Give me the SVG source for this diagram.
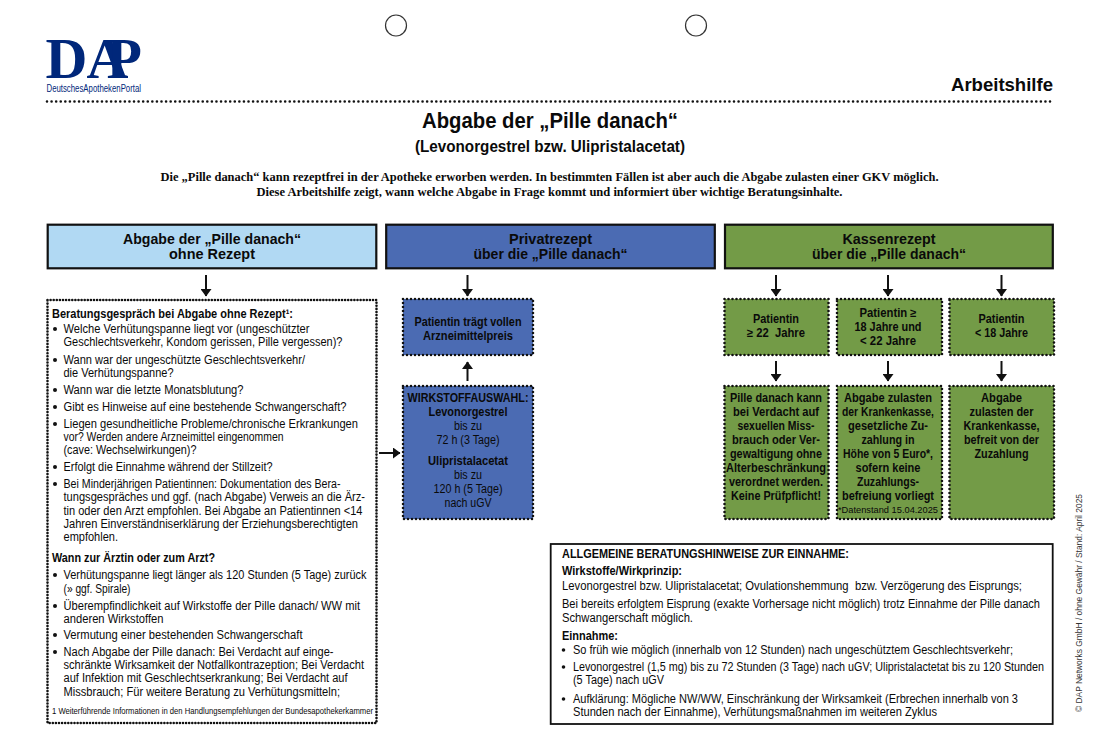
<svg xmlns="http://www.w3.org/2000/svg" width="1100" height="747" viewBox="0 0 1100 747">
<style>
text{font-family:"Liberation Sans",Arial,sans-serif;fill:#0a0a0a}
.c{text-anchor:middle}
.b{font-weight:bold}
.t{font-size:12px}
.s{font-size:12px;font-weight:bold;text-anchor:middle}
.h{font-size:15px;font-weight:bold;text-anchor:middle}
.i{font-family:"Liberation Serif","Times New Roman",serif;font-size:12.5px;font-weight:bold;text-anchor:middle}
.hb{stroke:#111;stroke-width:2.2}
.dot{stroke:#111;stroke-width:2.6;stroke-linecap:round;stroke-dasharray:0 3.1;fill:none}
.dotg{stroke:#111;stroke-width:2.6;stroke-linecap:round;stroke-dasharray:0 4;}
.ln{stroke:#111;stroke-width:2;fill:none;marker-end:url(#a)}
.bu{fill:#111}
</style>
<defs><marker id="a" markerUnits="userSpaceOnUse" markerWidth="8" markerHeight="11" refX="7" refY="5.5" orient="auto"><path d="M0 0L7.5 5.5L0 11Z" fill="#111"/></marker></defs>

<g id="punch-holes" fill="#fff" stroke="#333" stroke-width="1.2"><circle cx="396" cy="25.5" r="10.5"/><circle cx="696" cy="25.5" r="10.5"/></g>

<g id="logo">
<text x="45.5 86.5 106.5" y="77.5" font-size="58" style="font-family:'Liberation Serif',serif;font-weight:bold;fill:#00277a">DAP</text>
<text x="46.5" y="92" font-size="10.5" textLength="94.5" lengthAdjust="spacingAndGlyphs" style="fill:#00277a">DeutschesApothekenPortal</text>
</g>
<text x="1053" y="91" text-anchor="end" class="b" font-size="17.5" textLength="102" lengthAdjust="spacingAndGlyphs">Arbeitshilfe</text>
<line x1="47" y1="101.5" x2="1053" y2="101.5" stroke="#111" stroke-width="2.6" stroke-linecap="round" stroke-dasharray="0 4.58"/>

<g id="title">
<text x="550" y="128" class="c b" font-size="21.5" textLength="256" lengthAdjust="spacingAndGlyphs">Abgabe der „Pille danach“</text>
<text x="550" y="151.5" class="c b" font-size="16" textLength="270" lengthAdjust="spacingAndGlyphs">(Levonorgestrel bzw. Ulipristalacetat)</text>
<text x="549.5" y="181" class="i" textLength="778" lengthAdjust="spacingAndGlyphs">Die „Pille danach“ kann rezeptfrei in der Apotheke erworben werden. In bestimmten Fällen ist aber auch die Abgabe zulasten einer GKV möglich.</text>
<text x="549.5" y="196" class="i" textLength="586" lengthAdjust="spacingAndGlyphs">Diese Arbeitshilfe zeigt, wann welche Abgabe in Frage kommt und informiert über wichtige Beratungsinhalte.</text>
</g>

<g id="head-ohne-rezept"><rect x="47.7" y="224.7" width="328.6" height="43.6" fill="#b1d9f3" class="hb"/>
<text x="212" y="244" class="h" textLength="178" lengthAdjust="spacingAndGlyphs">Abgabe der „Pille danach“</text><text x="212" y="259" class="h" textLength="86" lengthAdjust="spacingAndGlyphs">ohne Rezept</text></g>
<g id="head-privatrezept"><rect x="386.2" y="224.7" width="328.6" height="43.6" fill="#4b6bb3" class="hb"/>
<text x="550.5" y="244" class="h" textLength="83" lengthAdjust="spacingAndGlyphs">Privatrezept</text><text x="550.5" y="259" class="h" textLength="154" lengthAdjust="spacingAndGlyphs">über die „Pille danach“</text></g>
<g id="head-kassenrezept"><rect x="725" y="224.7" width="327.8" height="43.6" fill="#739b47" class="hb"/>
<text x="889" y="244" class="h" textLength="93" lengthAdjust="spacingAndGlyphs">Kassenrezept</text><text x="889" y="259" class="h" textLength="154" lengthAdjust="spacingAndGlyphs">über die „Pille danach“</text></g>

<g id="connectors">
<line x1="206" y1="275" x2="206" y2="296" class="ln"/>
<line x1="467.5" y1="275" x2="467.5" y2="296" class="ln"/>
<line x1="776" y1="275" x2="776" y2="296" class="ln"/>
<line x1="888" y1="275" x2="888" y2="296" class="ln"/>
<line x1="1001.5" y1="275" x2="1001.5" y2="296" class="ln"/>
<line x1="776" y1="361" x2="776" y2="381" class="ln"/>
<line x1="888" y1="361" x2="888" y2="381" class="ln"/>
<line x1="1001.5" y1="361" x2="1001.5" y2="381" class="ln"/>
<line x1="467.5" y1="381" x2="467.5" y2="362" class="ln"/>
<line x1="379" y1="453" x2="400" y2="453" class="ln"/>
</g>

<g id="beratung">
<rect x="47.5" y="300" width="329" height="423" fill="#fff" class="dot"/>
<g class="t">
<text x="52" y="318" class="b" textLength="241" lengthAdjust="spacingAndGlyphs">Beratungsgespräch bei Abgabe ohne Rezept¹:</text>
<text x="63.5" y="333" textLength="246" lengthAdjust="spacingAndGlyphs">Welche Verhütungspanne liegt vor (ungeschützter</text>
<text x="63.5" y="346" textLength="279" lengthAdjust="spacingAndGlyphs">Geschlechtsverkehr, Kondom gerissen, Pille vergessen)?</text>
<text x="63.5" y="364" textLength="241.5" lengthAdjust="spacingAndGlyphs">Wann war der ungeschützte Geschlechtsverkehr/</text>
<text x="63.5" y="377" textLength="110" lengthAdjust="spacingAndGlyphs">die Verhütungspanne?</text>
<text x="63.5" y="394" textLength="180" lengthAdjust="spacingAndGlyphs">Wann war die letzte Monatsblutung?</text>
<text x="63.5" y="411" textLength="283" lengthAdjust="spacingAndGlyphs">Gibt es Hinweise auf eine bestehende Schwangerschaft?</text>
<text x="63.5" y="428" textLength="294.5" lengthAdjust="spacingAndGlyphs">Liegen gesundheitliche Probleme/chronische Erkrankungen</text>
<text x="63.5" y="441" textLength="220" lengthAdjust="spacingAndGlyphs">vor? Werden andere Arzneimittel eingenommen</text>
<text x="63.5" y="454" textLength="133" lengthAdjust="spacingAndGlyphs">(cave: Wechselwirkungen)?</text>
<text x="63.5" y="471" textLength="209" lengthAdjust="spacingAndGlyphs">Erfolgt die Einnahme während der Stillzeit?</text>
<text x="63.5" y="488" textLength="277" lengthAdjust="spacingAndGlyphs">Bei Minderjährigen Patientinnen: Dokumentation des Bera-</text>
<text x="63.5" y="501" textLength="301.5" lengthAdjust="spacingAndGlyphs">tungsgespräches und ggf. (nach Abgabe) Verweis an die Ärz-</text>
<text x="63.5" y="515" textLength="299" lengthAdjust="spacingAndGlyphs">tin oder den Arzt empfohlen. Bei Abgabe an Patientinnen &lt;14</text>
<text x="63.5" y="528" textLength="294.5" lengthAdjust="spacingAndGlyphs">Jahren Einverständniserklärung der Erziehungsberechtigten</text>
<text x="63.5" y="541" textLength="54.5" lengthAdjust="spacingAndGlyphs">empfohlen.</text>
<text x="52" y="562" class="b" textLength="163" lengthAdjust="spacingAndGlyphs">Wann zur Ärztin oder zum Arzt?</text>
<text x="63.5" y="579" textLength="303" lengthAdjust="spacingAndGlyphs">Verhütungspanne liegt länger als 120 Stunden (5 Tage) zurück</text>
<text x="63.5" y="593" textLength="67" lengthAdjust="spacingAndGlyphs">(» ggf. Spirale)</text>
<text x="63.5" y="610" textLength="296.5" lengthAdjust="spacingAndGlyphs">Überempfindlichkeit auf Wirkstoffe der Pille danach/ WW mit</text>
<text x="63.5" y="623" textLength="100" lengthAdjust="spacingAndGlyphs">anderen Wirkstoffen</text>
<text x="63.5" y="639" textLength="239" lengthAdjust="spacingAndGlyphs">Vermutung einer bestehenden Schwangerschaft</text>
<text x="63.5" y="656" textLength="270" lengthAdjust="spacingAndGlyphs">Nach Abgabe der Pille danach: Bei Verdacht auf einge-</text>
<text x="63.5" y="669" textLength="300.5" lengthAdjust="spacingAndGlyphs">schränkte Wirksamkeit der Notfallkontrazeption; Bei Verdacht</text>
<text x="63.5" y="682" textLength="284" lengthAdjust="spacingAndGlyphs">auf Infektion mit Geschlechtserkrankung; Bei Verdacht auf</text>
<text x="63.5" y="696" textLength="276.5" lengthAdjust="spacingAndGlyphs">Missbrauch; Für weitere Beratung zu Verhütungsmitteln;</text>
<text x="52" y="714" textLength="321" lengthAdjust="spacingAndGlyphs" style="font-size:8.5px">1 Weiterführende Informationen in den Handlungsempfehlungen der Bundesapothekerkammer</text>
</g>
<g class="bu"><circle cx="55" cy="329" r="2"/><circle cx="55" cy="360" r="2"/><circle cx="55" cy="390" r="2"/><circle cx="55" cy="407" r="2"/><circle cx="55" cy="424" r="2"/><circle cx="55" cy="467" r="2"/><circle cx="55" cy="484" r="2"/><circle cx="55" cy="575" r="2"/><circle cx="55" cy="606" r="2"/><circle cx="55" cy="635" r="2"/><circle cx="55" cy="652" r="2"/></g>
</g>

<g id="privat-preis"><rect x="403" y="299" width="130" height="56" fill="#4b6bb3" class="dotg"/>
<text x="468" y="326" class="s" textLength="107" lengthAdjust="spacingAndGlyphs">Patientin trägt vollen</text><text x="468" y="340" class="s" textLength="90" lengthAdjust="spacingAndGlyphs">Arzneimittelpreis</text></g>
<g id="privat-wirkstoff"><rect x="403" y="386" width="130" height="133" fill="#4b6bb3" class="dotg"/>
<text x="468" y="402" class="s" textLength="121" lengthAdjust="spacingAndGlyphs">WIRKSTOFFAUSWAHL:</text>
<text x="468" y="416" class="s" textLength="79" lengthAdjust="spacingAndGlyphs">Levonorgestrel</text>
<text x="468" y="430" class="t c" textLength="28" lengthAdjust="spacingAndGlyphs">bis zu</text>
<text x="468" y="444" class="t c" textLength="63" lengthAdjust="spacingAndGlyphs">72 h (3 Tage)</text>
<text x="468" y="465" class="s" textLength="80" lengthAdjust="spacingAndGlyphs">Ulipristalacetat</text>
<text x="468" y="479" class="t c" textLength="28" lengthAdjust="spacingAndGlyphs">bis zu</text>
<text x="468" y="493" class="t c" textLength="69" lengthAdjust="spacingAndGlyphs">120 h (5 Tage)</text>
<text x="468" y="507" class="t c" textLength="47" lengthAdjust="spacingAndGlyphs">nach uGV</text></g>

<g id="kasse-22"><rect x="724.5" y="299" width="104" height="56" fill="#739b47" class="dotg"/>
<text x="776" y="323" class="s" textLength="46" lengthAdjust="spacingAndGlyphs">Patientin</text><text x="776" y="337" class="s" textLength="58" lengthAdjust="spacingAndGlyphs" xml:space="preserve">≥ 22  Jahre</text></g>
<g id="kasse-18-22"><rect x="837" y="299" width="105" height="56" fill="#739b47" class="dotg"/>
<text x="888" y="317" class="s" textLength="57" lengthAdjust="spacingAndGlyphs">Patientin ≥</text><text x="888" y="331" class="s" textLength="67" lengthAdjust="spacingAndGlyphs">18 Jahre und</text><text x="888" y="345" class="s" textLength="56" lengthAdjust="spacingAndGlyphs">&lt; 22 Jahre</text></g>
<g id="kasse-u18"><rect x="949.5" y="299" width="104.5" height="56" fill="#739b47" class="dotg"/>
<text x="1001.5" y="323" class="s" textLength="46" lengthAdjust="spacingAndGlyphs">Patientin</text><text x="1001.5" y="337" class="s" textLength="53" lengthAdjust="spacingAndGlyphs">&lt; 18 Jahre</text></g>

<g id="ergebnis-22"><rect x="724.5" y="386" width="104" height="133" fill="#739b47" class="dotg"/>
<text x="776" y="402" class="s" textLength="92" lengthAdjust="spacingAndGlyphs">Pille danach kann</text>
<text x="776" y="416" class="s" textLength="86" lengthAdjust="spacingAndGlyphs">bei Verdacht auf</text>
<text x="776" y="430" class="s" textLength="77" lengthAdjust="spacingAndGlyphs">sexuellen Miss-</text>
<text x="776" y="444" class="s" textLength="88" lengthAdjust="spacingAndGlyphs">brauch oder Ver-</text>
<text x="776" y="458" class="s" textLength="92" lengthAdjust="spacingAndGlyphs">gewaltigung ohne</text>
<text x="776" y="472" class="s" textLength="100" lengthAdjust="spacingAndGlyphs">Alterbeschränkung</text>
<text x="776" y="486" class="s" textLength="94" lengthAdjust="spacingAndGlyphs">verordnet werden.</text>
<text x="776" y="500" class="s" textLength="90" lengthAdjust="spacingAndGlyphs">Keine Prüfpflicht!</text></g>
<g id="ergebnis-18-22"><rect x="837" y="386" width="105" height="133" fill="#739b47" class="dotg"/>
<text x="888" y="402" class="s" textLength="88" lengthAdjust="spacingAndGlyphs">Abgabe zulasten</text>
<text x="888" y="416" class="s" textLength="92" lengthAdjust="spacingAndGlyphs">der Krankenkasse,</text>
<text x="888" y="430" class="s" textLength="80" lengthAdjust="spacingAndGlyphs">gesetzliche Zu-</text>
<text x="888" y="444" class="s" textLength="53" lengthAdjust="spacingAndGlyphs">zahlung in</text>
<text x="888" y="458" class="s" textLength="90" lengthAdjust="spacingAndGlyphs">Höhe von 5 Euro*,</text>
<text x="888" y="472" class="s" textLength="65" lengthAdjust="spacingAndGlyphs">sofern keine</text>
<text x="888" y="486" class="s" textLength="62" lengthAdjust="spacingAndGlyphs">Zuzahlungs-</text>
<text x="888" y="500" class="s" textLength="92" lengthAdjust="spacingAndGlyphs">befreiung vorliegt</text>
<text x="888" y="513" class="c" font-size="9" textLength="100" lengthAdjust="spacingAndGlyphs">*Datenstand 15.04.2025</text></g>
<g id="ergebnis-u18"><rect x="949.5" y="386" width="104.5" height="133" fill="#739b47" class="dotg"/>
<text x="1001.5" y="402" class="s" textLength="41" lengthAdjust="spacingAndGlyphs">Abgabe</text>
<text x="1001.5" y="416" class="s" textLength="64" lengthAdjust="spacingAndGlyphs">zulasten der</text>
<text x="1001.5" y="430" class="s" textLength="76" lengthAdjust="spacingAndGlyphs">Krankenkasse,</text>
<text x="1001.5" y="444" class="s" textLength="75" lengthAdjust="spacingAndGlyphs">befreit von der</text>
<text x="1001.5" y="458" class="s" textLength="54" lengthAdjust="spacingAndGlyphs">Zuzahlung</text></g>

<g id="hinweise"><rect x="550.7" y="544" width="502" height="180" fill="#fff" stroke="#111" stroke-width="1.8"/>
<g class="t">
<text x="562" y="558" class="b" textLength="287" lengthAdjust="spacingAndGlyphs">ALLGEMEINE BERATUNGSHINWEISE ZUR EINNAHME:</text>
<text x="562" y="575" class="b" textLength="120" lengthAdjust="spacingAndGlyphs">Wirkstoffe/Wirkprinzip:</text>
<text x="562" y="590" textLength="460" lengthAdjust="spacingAndGlyphs" xml:space="preserve">Levonorgestrel bzw. Ulipristalacetat; Ovulationshemmung  bzw. Verzögerung des Eisprungs;</text>
<text x="562" y="608" textLength="478" lengthAdjust="spacingAndGlyphs">Bei bereits erfolgtem Eisprung (exakte Vorhersage nicht möglich) trotz Einnahme der Pille danach</text>
<text x="562" y="622" textLength="131" lengthAdjust="spacingAndGlyphs">Schwangerschaft möglich.</text>
<text x="562" y="640" class="b" textLength="56" lengthAdjust="spacingAndGlyphs">Einnahme:</text>
<text x="573" y="654" textLength="440" lengthAdjust="spacingAndGlyphs">So früh wie möglich (innerhalb von 12 Stunden) nach ungeschütztem Geschlechtsverkehr;</text>
<text x="573" y="671" textLength="471" lengthAdjust="spacingAndGlyphs">Levonorgestrel (1,5 mg) bis zu 72 Stunden (3 Tage) nach uGV; Ulipristalactetat bis zu 120 Stunden</text>
<text x="573" y="684" textLength="91" lengthAdjust="spacingAndGlyphs">(5 Tage) nach uGV</text>
<text x="573" y="703" textLength="445" lengthAdjust="spacingAndGlyphs">Aufklärung: Mögliche NW/WW, Einschränkung der Wirksamkeit (Erbrechen innerhalb von 3</text>
<text x="573" y="716" textLength="364" lengthAdjust="spacingAndGlyphs">Stunden nach der Einnahme), Verhütungsmaßnahmen im weiteren Zyklus</text>
</g>
<g class="bu"><circle cx="563.5" cy="650" r="1.8"/><circle cx="563.5" cy="667" r="1.8"/><circle cx="563.5" cy="699" r="1.8"/></g>
</g>

<text transform="translate(1081.5 712) rotate(-90)" font-size="9.5" textLength="218" lengthAdjust="spacingAndGlyphs" style="fill:#333">© DAP Networks GmbH / ohne Gewähr / Stand: April 2025</text>
</svg>
